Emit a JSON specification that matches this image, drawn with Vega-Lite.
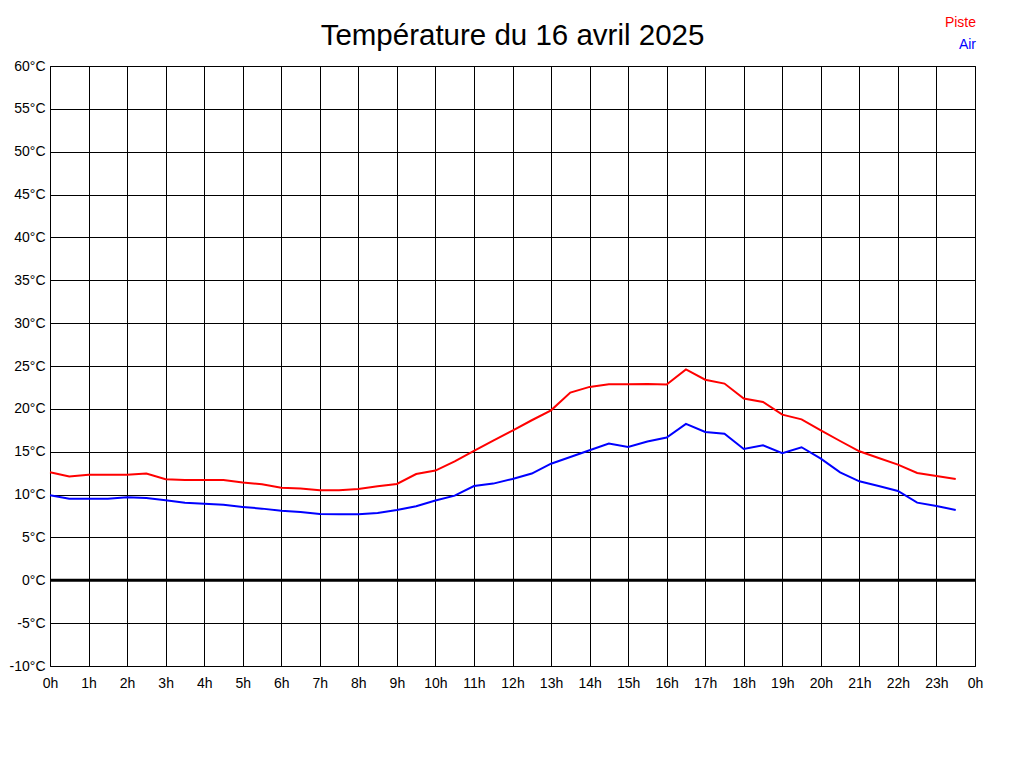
{
  "$schema": "https://vega.github.io/schema/vega-lite/v6.json",
  "width": 925,
  "height": 600,
  "autosize": {"type": "none"},
  "padding": {"left": 50, "top": 66, "right": 49, "bottom": 102},
  "background": "white",
  "title": {
    "text": "Température du 16 avril 2025",
    "font": "Liberation Sans",
    "fontSize": 29.5,
    "fontWeight": "normal",
    "color": "black",
    "anchor": "middle",
    "frame": "group",
    "baseline": "alphabetic",
    "offset": 13,
    "dy": 72
  },
  "config": {
    "view": {"stroke": "black", "strokeWidth": 1},
    "axis": {
      "labelFont": "Liberation Sans",
      "labelFontSize": 14,
      "labelColor": "black",
      "labelFlush": false,
      "labelOverlap": false,
      "grid": true,
      "gridColor": "black",
      "gridOpacity": 1,
      "gridWidth": 1,
      "domain": false,
      "ticks": false,
      "title": null
    }
  },
  "datasets": {
    "temps": [
      {"h": 0, "T": 12.6, "serie": "Piste"},
      {"h": 0.5, "T": 12.1, "serie": "Piste"},
      {"h": 1, "T": 12.3, "serie": "Piste"},
      {"h": 1.5, "T": 12.3, "serie": "Piste"},
      {"h": 2, "T": 12.3, "serie": "Piste"},
      {"h": 2.5, "T": 12.45, "serie": "Piste"},
      {"h": 3, "T": 11.8, "serie": "Piste"},
      {"h": 3.5, "T": 11.7, "serie": "Piste"},
      {"h": 4, "T": 11.7, "serie": "Piste"},
      {"h": 4.5, "T": 11.7, "serie": "Piste"},
      {"h": 5, "T": 11.4, "serie": "Piste"},
      {"h": 5.5, "T": 11.2, "serie": "Piste"},
      {"h": 6, "T": 10.8, "serie": "Piste"},
      {"h": 6.5, "T": 10.7, "serie": "Piste"},
      {"h": 7, "T": 10.5, "serie": "Piste"},
      {"h": 7.5, "T": 10.5, "serie": "Piste"},
      {"h": 8, "T": 10.65, "serie": "Piste"},
      {"h": 8.5, "T": 10.97, "serie": "Piste"},
      {"h": 9, "T": 11.24, "serie": "Piste"},
      {"h": 9.5, "T": 12.4, "serie": "Piste"},
      {"h": 10, "T": 12.8, "serie": "Piste"},
      {"h": 10.5, "T": 13.88, "serie": "Piste"},
      {"h": 11, "T": 15.09, "serie": "Piste"},
      {"h": 11.5, "T": 16.3, "serie": "Piste"},
      {"h": 12, "T": 17.47, "serie": "Piste"},
      {"h": 12.5, "T": 18.67, "serie": "Piste"},
      {"h": 13, "T": 19.83, "serie": "Piste"},
      {"h": 13.5, "T": 21.9, "serie": "Piste"},
      {"h": 14, "T": 22.56, "serie": "Piste"},
      {"h": 14.5, "T": 22.87, "serie": "Piste"},
      {"h": 15, "T": 22.87, "serie": "Piste"},
      {"h": 15.5, "T": 22.9, "serie": "Piste"},
      {"h": 16, "T": 22.83, "serie": "Piste"},
      {"h": 16.5, "T": 24.6, "serie": "Piste"},
      {"h": 17, "T": 23.4, "serie": "Piste"},
      {"h": 17.5, "T": 22.95, "serie": "Piste"},
      {"h": 18, "T": 21.2, "serie": "Piste"},
      {"h": 18.5, "T": 20.8, "serie": "Piste"},
      {"h": 19, "T": 19.33, "serie": "Piste"},
      {"h": 19.5, "T": 18.78, "serie": "Piste"},
      {"h": 20, "T": 17.5, "serie": "Piste"},
      {"h": 20.5, "T": 16.25, "serie": "Piste"},
      {"h": 21, "T": 15.05, "serie": "Piste"},
      {"h": 21.5, "T": 14.27, "serie": "Piste"},
      {"h": 22, "T": 13.5, "serie": "Piste"},
      {"h": 22.5, "T": 12.52, "serie": "Piste"},
      {"h": 23, "T": 12.17, "serie": "Piste"},
      {"h": 23.5, "T": 11.82, "serie": "Piste"},
      {"h": 0, "T": 9.92, "serie": "Air"},
      {"h": 0.5, "T": 9.5, "serie": "Air"},
      {"h": 1, "T": 9.5, "serie": "Air"},
      {"h": 1.5, "T": 9.5, "serie": "Air"},
      {"h": 2, "T": 9.7, "serie": "Air"},
      {"h": 2.5, "T": 9.6, "serie": "Air"},
      {"h": 3, "T": 9.33, "serie": "Air"},
      {"h": 3.5, "T": 9.06, "serie": "Air"},
      {"h": 4, "T": 8.94, "serie": "Air"},
      {"h": 4.5, "T": 8.8, "serie": "Air"},
      {"h": 5, "T": 8.56, "serie": "Air"},
      {"h": 5.5, "T": 8.36, "serie": "Air"},
      {"h": 6, "T": 8.1, "serie": "Air"},
      {"h": 6.5, "T": 7.97, "serie": "Air"},
      {"h": 7, "T": 7.74, "serie": "Air"},
      {"h": 7.5, "T": 7.7, "serie": "Air"},
      {"h": 8, "T": 7.7, "serie": "Air"},
      {"h": 8.5, "T": 7.86, "serie": "Air"},
      {"h": 9, "T": 8.2, "serie": "Air"},
      {"h": 9.5, "T": 8.63, "serie": "Air"},
      {"h": 10, "T": 9.3, "serie": "Air"},
      {"h": 10.5, "T": 9.88, "serie": "Air"},
      {"h": 11, "T": 11.0, "serie": "Air"},
      {"h": 11.5, "T": 11.28, "serie": "Air"},
      {"h": 12, "T": 11.82, "serie": "Air"},
      {"h": 12.5, "T": 12.45, "serie": "Air"},
      {"h": 13, "T": 13.6, "serie": "Air"},
      {"h": 13.5, "T": 14.39, "serie": "Air"},
      {"h": 14, "T": 15.17, "serie": "Air"},
      {"h": 14.5, "T": 15.95, "serie": "Air"},
      {"h": 15, "T": 15.56, "serie": "Air"},
      {"h": 15.5, "T": 16.2, "serie": "Air"},
      {"h": 16, "T": 16.65, "serie": "Air"},
      {"h": 16.5, "T": 18.24, "serie": "Air"},
      {"h": 17, "T": 17.3, "serie": "Air"},
      {"h": 17.5, "T": 17.1, "serie": "Air"},
      {"h": 18, "T": 15.32, "serie": "Air"},
      {"h": 18.5, "T": 15.75, "serie": "Air"},
      {"h": 19, "T": 14.82, "serie": "Air"},
      {"h": 19.5, "T": 15.52, "serie": "Air"},
      {"h": 20, "T": 14.2, "serie": "Air"},
      {"h": 20.5, "T": 12.6, "serie": "Air"},
      {"h": 21, "T": 11.55, "serie": "Air"},
      {"h": 21.5, "T": 11.0, "serie": "Air"},
      {"h": 22, "T": 10.42, "serie": "Air"},
      {"h": 22.5, "T": 9.06, "serie": "Air"},
      {"h": 23, "T": 8.67, "serie": "Air"},
      {"h": 23.5, "T": 8.2, "serie": "Air"}
    ],
    "zero": [{"T": 0}]
  },
  "layer": [
    {
      "data": {"name": "zero"},
      "mark": {"type": "rule", "color": "black", "strokeWidth": 3},
      "encoding": {
        "y": {"field": "T", "type": "quantitative", "scale": {"domain": [-10, 60]}}
      }
    },
    {
      "data": {"name": "temps"},
      "mark": {"type": "line", "strokeWidth": 2, "interpolate": "linear"},
      "encoding": {
        "x": {
          "field": "h",
          "type": "quantitative",
          "scale": {"domain": [0, 24], "nice": false, "zero": false},
          "axis": {
            "values": [0,1,2,3,4,5,6,7,8,9,10,11,12,13,14,15,16,17,18,19,20,21,22,23,24],
            "labelExpr": "(datum.value % 24) + 'h'",
            "labelPadding": 10
          }
        },
        "y": {
          "field": "T",
          "type": "quantitative",
          "scale": {"domain": [-10, 60], "nice": false},
          "axis": {
            "values": [-10,-5,0,5,10,15,20,25,30,35,40,45,50,55,60],
            "labelExpr": "datum.value + '°C'",
            "labelPadding": 5
          }
        },
        "color": {
          "field": "serie",
          "type": "nominal",
          "scale": {"domain": ["Piste", "Air"], "range": ["#ff0000", "#0000ff"]},
          "legend": {
            "title": null,
            "orient": "none",
            "legendX": 912,
            "legendY": -50.5,
            "padding": 0,
            "symbolSize": 0,
            "symbolOpacity": 0,
            "symbolStrokeWidth": 0,
            "labelFont": "Liberation Sans",
            "labelFontSize": 14,
            "labelAlign": "right",
            "labelOffset": 0,
            "rowPadding": 8,
            "encode": {
              "labels": {
                "update": {"fill": {"signal": "scale('color', datum.value)"}}
              }
            }
          }
        }
      }
    }
  ]
}
